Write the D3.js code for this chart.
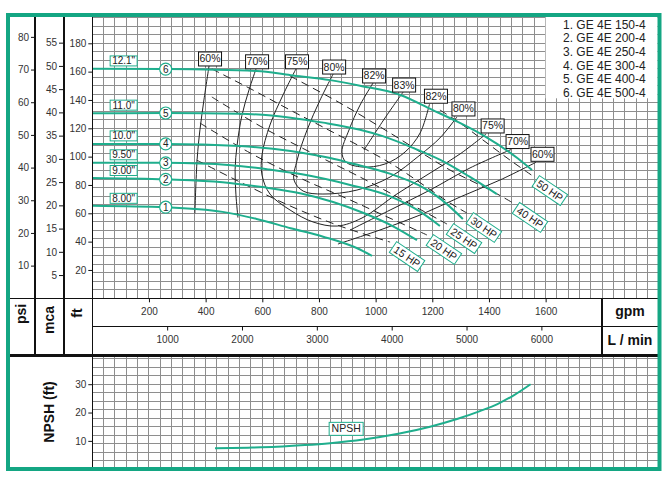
<!DOCTYPE html>
<html><head><meta charset="utf-8">
<script src="https://cdn.jsdelivr.net/npm/d3@7/dist/d3.min.js"></script>
<style>body{margin:0;background:#fff;}svg{display:block;font-family:"Liberation Sans",Arial,sans-serif;}</style>
</head><body><svg id="c" width="671" height="490"></svg>
<script>
// ---------- data ----------
const gpmTicks=[200,400,600,800,1000,1200,1400,1600];
const lpmTicks=[1000,2000,3000,4000,5000,6000];
const psiTicks=[10,20,30,40,50,60,70,80];
const mcaTicks=[5,10,15,20,25,30,35,40,45,50,55];
const ftTicks=[20,40,60,80,100,120,140,160,180];
const npshTicks=[10,20,30];
const models=["1. GE 4E 150-4","2. GE 4E 200-4","3. GE 4E 250-4","4. GE 4E 300-4","5. GE 4E 400-4","6. GE 4E 500-4"];
const diameters=["8.00\"","9.00\"","9.50\"","10.0\"","11.0\"","12.1\""];
const curveNums=["1","2","3","4","5","6"];
// head curves (gpm, ft)
const curve1=[[0,65.4],[260,64.3],[460,61],[580,56],[700,49.5],[815,43.5],[933,35.5],[987,30]];
const curve2=[[0,85],[260,84],[460,82],[600,78.5],[737,74],[850,68],[960,60],[1060,51],[1146,41]];
const curve3=[[0,95.7],[260,95.6],[490,94],[620,91],[740,87.5],[910,80],[1051,72],[1150,62],[1227,51]];
const curve4=[[0,109],[260,109],[520,107.5],[700,104],[840,99],[910,95.5],[1050,88],[1150,80],[1230,70],[1308,56]];
const curve5=[[0,130.6],[260,130.8],[520,130.3],[700,127.5],[815,124],[945,119],[1025,114.5],[1146,105],[1230,97.5],[1330,86],[1428,73.5]];
const curve6=[[0,162],[260,161.8],[580,160.5],[700,157.5],[840,154],[945,150],[1087,143.5],[1200,133],[1290,124.5],[1380,115],[1500,99],[1552,90.5]];
// efficiency lines (gpm, ft)
const eff60L=[[412,164],[394,140],[380,119],[370,98],[362,60]];
const eff70L=[[578,162],[553,147],[528,129],[511,108],[504,91],[507,73],[514,57]];
const eff75=[[719,162],[673,143.5],[627,122.3],[599,101.2],[599,87],[627,73.6],[698,62.3],[779,53.9],[864,51],[952,56.7],[1075,73.6],[1192,88.4],[1298,101.9],[1390,116]];
const eff80=[[850,158.3],[804,140],[758,118.8],[723,97.6],[712,83.5],[744,75.7],[814,73.6],[934,76.4],[1051,85.6],[1157,101.2],[1227,113.2],[1287,128]];
const eff82=[[991,152],[945,136.4],[906,118.8],[881,103.3],[895,96.2],[952,92.7],[1033,94.8],[1104,103.3],[1157,116.7],[1190,137]];
const eff83=[[1097,145.6],[1033,127.3],[959,104.7]];
const eff70R=[[910,48.2],[1051,62.3],[1192,76.4],[1333,92],[1478,105]];
const eff60R=[[867,38.3],[1015,48.2],[1157,58.8],[1298,71.5],[1439,83.5],[1566,96]];
// power lines (gpm, ft)
const hp15=[[368,97.6],[521,82.1],[698,65.2],[874,51],[1051,39.7]];
const hp20=[[380,123.7],[557,102.6],[733,84.9],[910,69.4],[1026,58.8],[1181,44.7]];
const hp25=[[422,142.1],[592,121.6],[768,103.3],[945,85.6],[1051,74.3],[1252,52.4]];
const hp30=[[422,161.9],[567,147],[698,132.9],[814,120.9],[1051,95.5],[1262,67.3],[1322,60.2]];
const hp40=[[698,156.9],[874,137.9],[1051,116.7],[1262,90.6],[1404,76.4],[1485,67.3]];
const hp50=[[1227,132.9],[1298,123.7],[1379,111.7],[1474,97.6],[1555,86.3]];
const hpLabels=["15 HP","20 HP","25 HP","30 HP","40 HP","50 HP"];
// NPSH (gpm, ft)
const npsh=[[433,7.4],[550,7.6],[651,7.9],[750,8.5],[839,9.2],[957,10.5],[1080,12.5],[1192,15],[1290,17.8],[1368,20.5],[1430,23],[1486,26],[1547,30]];

// ---------- layout ----------
const TEAL="#1fae8d", BORDER="#14a683", GRID="#8e8e8e";
const L=92.3, R=657.5, TOP=17, BASE=298.3, MID=326.5, THICK=355.5, BOT=467;
const svg=d3.select("#c");
const x=d3.scaleLinear().domain([0,2000]).range([L,L+2000*0.28333]);
const y=d3.scaleLinear().domain([0,200]).range([BASE,BASE-200*1.41667]);
const yPsi=d3.scaleLinear().domain([0,200/2.3067]).range([BASE,BASE-200*1.41667]);
const yMca=d3.scaleLinear().domain([0,200/3.2808]).range([BASE,BASE-200*1.41667]);
const xL=d3.scaleLinear().domain([0,2000*3.78541]).range(x.range());
const yN=d3.scaleLinear().domain([0,40]).range([469.2,469.2-40*2.8333]);

// grids
const gUp=svg.append("g").attr("stroke",GRID).attr("stroke-width",1).attr("shape-rendering","crispEdges");
d3.range(0,2001,40).forEach(v=>{const px=x(v); if(px<=R){
  gUp.append("line").attr("x1",px).attr("x2",px).attr("y1",TOP).attr("y2",BASE);
  gUp.append("line").attr("x1",px).attr("x2",px).attr("y1",THICK).attr("y2",BOT);}});
d3.range(0,201,6).forEach(v=>{const py=y(v); if(py>=TOP)
  gUp.append("line").attr("x1",L).attr("x2",R).attr("y1",py).attr("y2",py);});
d3.range(0,41,3).forEach(v=>{const py=yN(v); if(py>=THICK&&py<=BOT)
  gUp.append("line").attr("x1",L).attr("x2",R).attr("y1",py).attr("y2",py);});

// legend box
svg.append("rect").attr("x",x(1600)).attr("y",TOP).attr("width",R-x(1600)).attr("height",98.3-TOP).attr("fill","#fff");
svg.append("g").selectAll("text").data(models).join("text")
  .attr("x",563).attr("y",(d,i)=>28.5+i*13.7).attr("font-size",12).attr("fill","#222").text(d=>d);

const clipUp=svg.append("defs").append("clipPath").attr("id","cu");
clipUp.append("rect").attr("x",L).attr("y",TOP).attr("width",R-L).attr("height",BASE-TOP);

const lineMono=d3.line().x(d=>x(d[0])).y(d=>y(d[1])).curve(d3.curveMonotoneX);
const lineCR=d3.line().x(d=>x(d[0])).y(d=>y(d[1])).curve(d3.curveCatmullRom.alpha(0.5));

const plot=svg.append("g").attr("clip-path","url(#cu)");
// efficiency lines
const effLines=[
 {pts:eff60L,start:"60%"},{pts:eff70L,start:"70%"},{pts:eff75,start:"75%",end:"75%"},
 {pts:eff80,start:"80%",end:"80%"},{pts:eff82,start:"82%",end:"82%"},{pts:eff83,start:"83%"},
 {pts:eff70R,end:"70%"},{pts:eff60R,end:"60%"}];
effLines.forEach(e=>plot.append("path").attr("d",lineCR(e.pts)).attr("fill","none").attr("stroke","#222").attr("stroke-width",1));
// power lines
const hpLines=[hp15,hp20,hp25,hp30,hp40,hp50];
hpLines.forEach(p=>plot.append("path").attr("d",lineCR(p)).attr("fill","none").attr("stroke","#222").attr("stroke-width",1).attr("stroke-dasharray","8,5"));
// head curves
const curves=[curve1,curve2,curve3,curve4,curve5,curve6];
curves.forEach(c=>plot.append("path").attr("d",lineMono(c)).attr("fill","none").attr("stroke",TEAL).attr("stroke-width",2));

function yAt(c,g){for(let i=1;i<c.length;i++){if(g<=c[i][0]){const t=(g-c[i-1][0])/(c[i][0]-c[i-1][0]);return c[i-1][1]+t*(c[i][1]-c[i-1][1]);}}return c[c.length-1][1];}

// diameter labels and circles
curves.forEach((c,i)=>{
  const bx=x(63), by=y(yAt(c,113))-3;
  svg.append("rect").attr("x",bx).attr("y",by-10).attr("width",27).attr("height",10).attr("fill","#fff").attr("stroke",TEAL).attr("stroke-width",1);
  svg.append("text").attr("x",bx+13.5).attr("y",by-1.5).attr("text-anchor","middle").attr("font-size",10).attr("fill","#222").text(diameters[i]);
  const cx=x(259), cy=y(yAt(c,259));
  svg.append("circle").attr("cx",cx).attr("cy",cy).attr("r",6).attr("fill","#fff").attr("stroke",TEAL).attr("stroke-width",1.2);
  svg.append("text").attr("x",cx).attr("y",cy+3.5).attr("text-anchor","middle").attr("font-size",10).attr("fill","#222").text(curveNums[i]);
});

// efficiency labels
function effBox(cx,bottom,t){
  svg.append("rect").attr("x",cx-11.5).attr("y",bottom-14).attr("width",23).attr("height",14).attr("fill","#fff").attr("stroke","#111").attr("stroke-width",1);
  svg.append("text").attr("x",cx).attr("y",bottom-3.5).attr("text-anchor","middle").attr("font-size",10.5).attr("fill","#222").text(t);
}
effLines.forEach(e=>{
  if(e.start){const p=e.pts[0]; effBox(x(p[0])+1,y(p[1]),e.start);}
  if(e.end){const p=e.pts[e.pts.length-1]; effBox(x(p[0])+6.5,y(p[1])-1,e.end);}
});

// HP labels
hpLines.forEach((p,i)=>{
  const e=p[p.length-1]; const cx=x(e[0])+17, cy=y(e[1])+14.5;
  const g=svg.append("g").attr("transform",`translate(${cx},${cy}) rotate(34)`);
  g.append("rect").attr("x",-17).attr("y",-6.5).attr("width",34).attr("height",13).attr("fill","#fff").attr("stroke",TEAL).attr("stroke-width",1);
  g.append("text").attr("x",0).attr("y",3.8).attr("text-anchor","middle").attr("font-size",10.5).attr("fill","#222").text(hpLabels[i]);
});

// NPSH curve
const clipLo=svg.select("defs").append("clipPath").attr("id","cl");
clipLo.append("rect").attr("x",L).attr("y",THICK).attr("width",R-L).attr("height",BOT-THICK);
const lineN=d3.line().x(d=>x(d[0])).y(d=>yN(d[1])).curve(d3.curveMonotoneX);
svg.append("path").attr("clip-path","url(#cl)").attr("d",lineN(npsh)).attr("fill","none").attr("stroke",TEAL).attr("stroke-width",2);
{const nb=yN(yAt(npsh,896))-6; const nx=x(896);
 svg.append("rect").attr("x",nx-17).attr("y",nb-13).attr("width",34).attr("height",13).attr("fill","#fff").attr("stroke",TEAL).attr("stroke-width",1);
 svg.append("text").attr("x",nx).attr("y",nb-3).attr("text-anchor","middle").attr("font-size",10.5).attr("fill","#222").text("NPSH");}

// frame lines
const fr=svg.append("g").attr("stroke","#111").attr("shape-rendering","crispEdges");
[35,64].forEach(v=>fr.append("line").attr("x1",v).attr("x2",v).attr("y1",TOP).attr("y2",THICK).attr("stroke-width",1.2));
fr.append("line").attr("x1",L).attr("x2",L).attr("y1",TOP).attr("y2",BOT).attr("stroke-width",1.2);
fr.append("line").attr("x1",10).attr("x2",R).attr("y1",BASE).attr("y2",BASE).attr("stroke-width",1.2);
fr.append("line").attr("x1",L).attr("x2",R).attr("y1",MID).attr("y2",MID).attr("stroke-width",1.2);
fr.append("line").attr("x1",602).attr("x2",602).attr("y1",BASE).attr("y2",THICK).attr("stroke-width",1.2);
fr.append("line").attr("x1",10).attr("x2",R).attr("y1",THICK).attr("y2",THICK).attr("stroke-width",3.5);

// axes
const fmt=d3.format("d");
function styleAx(g){g.select(".domain").remove();g.selectAll("line").attr("stroke","#111");g.selectAll("text").attr("font-size",10).attr("fill","#333").attr("font-family","Liberation Sans, Arial, sans-serif");}
svg.append("g").attr("transform",`translate(0,${BASE})`).call(d3.axisBottom(x).tickValues(gpmTicks).tickFormat(fmt).tickSize(4).tickPadding(6)).call(styleAx);
svg.append("g").attr("transform",`translate(0,${MID})`).call(d3.axisBottom(xL).tickValues(lpmTicks).tickFormat(fmt).tickSize(4).tickPadding(5)).call(styleAx);
svg.append("g").attr("transform","translate(35,0)").call(d3.axisLeft(yPsi).tickValues(psiTicks).tickFormat(fmt).tickSize(4).tickPadding(2)).call(styleAx);
svg.append("g").attr("transform","translate(64,0)").call(d3.axisLeft(yMca).tickValues(mcaTicks).tickFormat(fmt).tickSize(5).tickPadding(2)).call(styleAx);
svg.append("g").attr("transform",`translate(${L},0)`).call(d3.axisLeft(y).tickValues(ftTicks).tickFormat(fmt).tickSize(4).tickPadding(2)).call(styleAx);
svg.append("g").attr("transform",`translate(${L},0)`).call(d3.axisLeft(yN).tickValues(npshTicks).tickFormat(fmt).tickSize(4).tickPadding(2)).call(styleAx);

// titles
function vt(t,cx,cy){svg.append("text").attr("transform",`translate(${cx},${cy}) rotate(-90)`).attr("text-anchor","middle").attr("dominant-baseline","central").attr("font-size",14).attr("font-weight","bold").attr("fill","#111").text(t);}
vt("psi",21,314); vt("mca",49,320); vt("ft",77,313); vt("NPSH (ft)",49,412);
svg.append("text").attr("x",630).attr("y",316).attr("text-anchor","middle").attr("font-size",14).attr("font-weight","bold").attr("fill","#111").text("gpm");
svg.append("text").attr("x",630).attr("y",345).attr("text-anchor","middle").attr("font-size",14).attr("font-weight","bold").attr("fill","#111").text("L / min");

// outer border
svg.append("rect").attr("x",8).attr("y",15).attr("width",651.5).attr("height",454).attr("fill","none").attr("stroke",BORDER).attr("stroke-width",4);
</script></body></html>
